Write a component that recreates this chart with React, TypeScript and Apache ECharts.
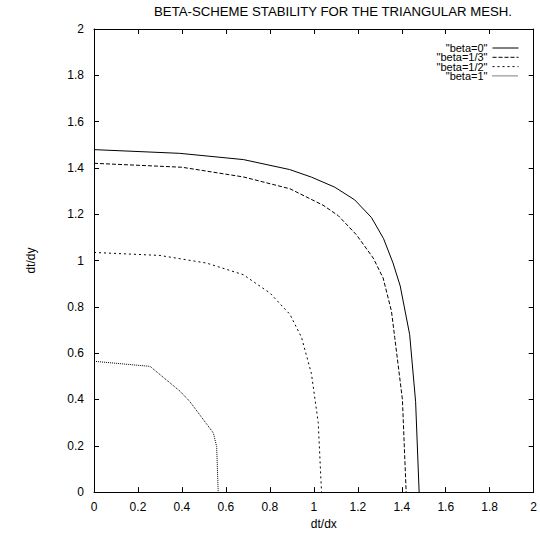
import React, { useEffect, useRef } from "react";
import * as echarts from "echarts";

const titleText = "BETA-SCHEME STABILITY FOR THE TRIANGULAR MESH.";
const xName = "dt/dx";
const yName = "dt/dy";

const seriesNames = ['"beta=0"', '"beta=1/3"', '"beta=1/2"', '"beta=1"'];

const beta0X = [0, 0.39, 0.68, 0.89, 0.99, 1.095, 1.186, 1.262, 1.317, 1.36, 1.393, 1.436, 1.463, 1.479];
const beta0Y = [1.479, 1.463, 1.436, 1.393, 1.36, 1.317, 1.262, 1.186, 1.095, 0.99, 0.89, 0.68, 0.39, 0];

const beta13X = [0, 0.4, 0.68, 0.891, 1.042, 1.111, 1.194, 1.27, 1.315, 1.353, 1.368, 1.403, 1.42];
const beta13Y = [1.42, 1.403, 1.361, 1.31, 1.239, 1.194, 1.111, 1.011, 0.925, 0.782, 0.668, 0.4, 0];

const beta12X = [0, 0.3, 0.512, 0.679, 0.8, 0.891, 0.944, 0.989, 1.02, 1.035];
const beta12Y = [1.035, 1.022, 0.989, 0.939, 0.86, 0.768, 0.668, 0.512, 0.3, 0];

const beta1X = [0, 0.255, 0.391, 0.436, 0.543, 0.558, 0.565];
const beta1Y = [0.565, 0.543, 0.436, 0.391, 0.255, 0.197, 0];

const dashes: (number[] | "solid")[] = ["solid", [4, 2], [2, 3], [1, 1]];

const pairs = (xs: number[], ys: number[]) => xs.map((x, i) => [x, ys[i]]);

export default function App() {
  const ref = useRef<HTMLDivElement>(null);
  useEffect(() => {
    if (!ref.current) return;
    const chart = echarts.init(ref.current, null, { renderer: "svg" });
    const font = "'Liberation Sans', Arial, Helvetica, sans-serif";
    const allData = [
      pairs(beta0X, beta0Y),
      pairs(beta13X, beta13Y),
      pairs(beta12X, beta12Y),
      pairs(beta1X, beta1Y),
    ];
    const axisCommon = {
      type: "value" as const,
      min: 0,
      max: 2,
      interval: 0.2,
      splitLine: { show: false },
      axisLine: { show: true, onZero: false, lineStyle: { color: "#000", width: 1 } },
      axisTick: { show: true, inside: true, length: 5, lineStyle: { color: "#000", width: 1 } },
    };
    const legendTops = [42.5, 51.8, 61.1, 70.4];
    chart.setOption({
      animation: false,
      backgroundColor: "#fff",
      textStyle: { fontFamily: font, color: "#000" },
      title: {
        text: titleText,
        left: 333,
        textAlign: "center",
        top: 5,
        padding: 0,
        textStyle: { fontSize: 13.2, fontWeight: "normal", color: "#000", fontFamily: font },
      },
      legend: seriesNames.map((n, i) => ({
        data: [n],
        orient: "vertical",
        right: 21,
        top: legendTops[i],
        padding: 0,
        align: "right",
        itemWidth: 26,
        itemHeight: 9,
        itemGap: 0,
        selectedMode: false,
        itemStyle: { color: "rgba(0,0,0,0)", borderWidth: 0 },
        lineStyle: { width: 1, color: "#000" },
        textStyle: { fontSize: 11, color: "#000", fontFamily: font, lineHeight: 9 },
      })),
      grid: { left: 94, right: 6, top: 29, bottom: 39, containLabel: false },
      xAxis: [
        {
          ...axisCommon,
          position: "bottom",
          name: xName,
          nameLocation: "middle",
          nameGap: 24,
          nameTextStyle: { fontSize: 12, color: "#000", fontFamily: font, padding: [0, 0, 0, 20] },
          axisLabel: { fontSize: 12, color: "#000", margin: 9, fontFamily: font },
        },
        { ...axisCommon, position: "top", axisLabel: { show: false } },
      ],
      yAxis: [
        {
          ...axisCommon,
          position: "left",
          name: yName,
          nameLocation: "middle",
          nameGap: 57,
          nameRotate: 90,
          nameTextStyle: { fontSize: 12, color: "#000", fontFamily: font },
          axisLabel: { fontSize: 12, color: "#000", margin: 10, fontFamily: font },
        },
        { ...axisCommon, position: "right", axisLabel: { show: false } },
      ],
      series: seriesNames.map((n, i) => ({
        name: n,
        type: "line",
        xAxisIndex: 0,
        yAxisIndex: 0,
        data: allData[i],
        symbol: "none",
        color: "#000",
        lineStyle: { color: "#000", width: 1, type: dashes[i] },
      })),
    });
    return () => chart.dispose();
  }, []);
  return <div ref={ref} style={{ width: 540, height: 535, position: "absolute", left: 0, top: 0 }} />;
}
